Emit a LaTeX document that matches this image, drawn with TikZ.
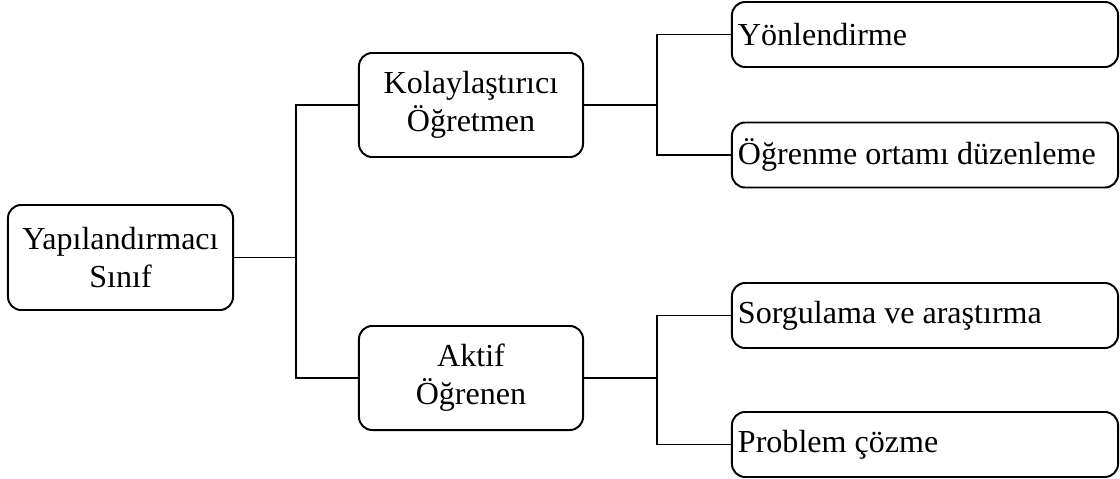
\documentclass[tikz,border=0pt]{standalone}
\usepackage{fontspec}
\setmainfont{Liberation Serif}
\tikzset{
  box/.style={draw, line width=1.4pt, rounded corners=0.33cm, align=center, inner sep=0pt,
    font=\fontsize{22.8}{27}\selectfont},
  leafbox/.style={box, minimum width=9.65cm, minimum height=1.625cm, inner xsep=0.15cm,
    text width=9.35cm, align=flush left},
  conn/.style={line width=1.4pt}
}
\begin{document}
\begin{tikzpicture}[x=0.025cm, y=-0.025cm]
    \useasboundingbox (0,0) rectangle (1120,479);
    % Wurzel
    \node[box, minimum width=5.625cm, minimum height=2.625cm] (root) at (120.5,257.5) {Yapılandırmacı\\Sınıf};
    % Zweige
    \node[box, minimum width=5.6cm, minimum height=2.6cm] (kol) at (471,105) {Kolaylaştırıcı\\Öğretmen};
    \node[box, minimum width=5.6cm, minimum height=2.6cm] (akt) at (471,378) {Aktif\\Öğrenen};
    % Blätter
    \node[leafbox] (yon) at (925,34.5) {\mbox{Yönlendirme}};
    \node[leafbox] (ort) at (925,155) {\mbox{Öğrenme ortamı düzenleme}};
    \node[leafbox] (sor) at (925,315.5) {\mbox{Sorgulama ve araştırma}};
    \node[leafbox] (pro) at (925,444.5) {\mbox{Problem çözme}};
    % Verbindungen
    \coordinate (j1) at (296,257.5);
    \coordinate (j2) at (657,105);
    \coordinate (j3) at (657,378);
    \draw[conn] (root.east) -- (j1);
    \draw[conn] (kol.west) -| (j1) |- (akt.west);
    \draw[conn] (kol.east) -- (j2);
    \draw[conn] (yon.west) -| (j2) |- (ort.west);
    \draw[conn] (akt.east) -- (j3);
    \draw[conn] (sor.west) -| (j3) |- (pro.west);
\end{tikzpicture}
\end{document}
